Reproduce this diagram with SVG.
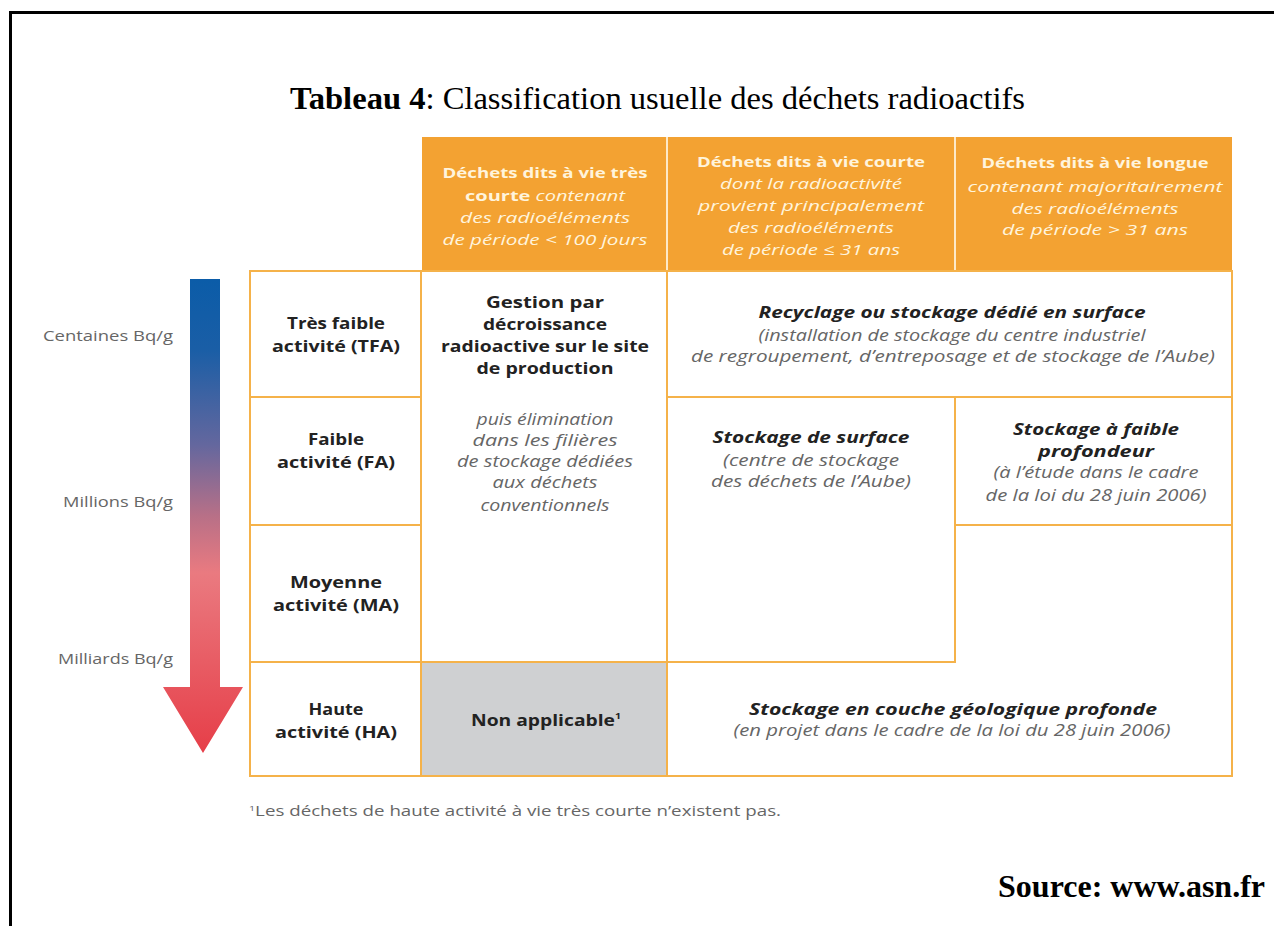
<svg xmlns="http://www.w3.org/2000/svg" width="1274" height="926" viewBox="0 0 1274 926">
<defs>
<linearGradient id="arrowGrad" gradientUnits="userSpaceOnUse" x1="0" y1="279" x2="0" y2="753">
<stop offset="0" stop-color="#0b5ca8"/>
<stop offset="0.15" stop-color="#1a5ea6"/>
<stop offset="0.35" stop-color="#64679e"/>
<stop offset="0.5" stop-color="#b87087"/>
<stop offset="0.62" stop-color="#ea7a80"/>
<stop offset="1" stop-color="#e63e48"/>
</linearGradient>
<style>
.frame{stroke:#000;stroke-width:3;fill:none}
.cell{fill:#fff;stroke:#f5b24a;stroke-width:2}
.hdr{fill:#f3a232}
.sep{stroke:#fde9c8;stroke-width:2}
.gray{fill:#cfd0d2;stroke:#f5b24a;stroke-width:2}
text{font-family:"Open Sans","Noto Sans",sans-serif;text-anchor:middle}
.ht{fill:#fff4dc;font-size:15px}
.htb{font-weight:bold}
.hti{font-style:italic}
.rl{fill:#222;font-size:16.5px;font-weight:bold}
.b{fill:#222;font-size:16.5px;font-weight:bold}
.bi{fill:#222;font-size:16.5px;font-weight:bold;font-style:italic}
.gi{fill:#666;font-size:15.5px;font-style:italic}
.scale{fill:#666;font-size:14.5px;text-anchor:end}
.title{font-family:"Liberation Serif","Times New Roman",serif;font-size:31px;fill:#000;text-anchor:start}
.src{font-family:"Liberation Serif","Times New Roman",serif;font-size:32px;font-weight:bold;fill:#000;text-anchor:end}
.foot{fill:#666;font-size:14px;text-anchor:start}
</style>
</defs>
<rect x="0" y="0" width="1274" height="926" fill="#fff"/>
<path class="frame" d="M10.5 926 V12.5 H1274"/>

<text class="title" x="290" y="109" textLength="735" lengthAdjust="spacingAndGlyphs"><tspan font-weight="bold">Tableau 4</tspan>: Classification usuelle des déchets radioactifs</text>

<g id="header">
<rect class="hdr" x="422" y="137" width="810" height="134"/>
<line class="sep" x1="667" y1="137" x2="667" y2="271"/>
<line class="sep" x1="955" y1="137" x2="955" y2="271"/>
<g id="hdr-vie-tres-courte">
<text class="ht htb" x="545" y="178" textLength="205" lengthAdjust="spacingAndGlyphs">Déchets dits à vie très</text>
<text class="ht" x="545" y="201" textLength="160" lengthAdjust="spacingAndGlyphs"><tspan class="htb">courte</tspan><tspan class="hti"> contenant</tspan></text>
<text class="ht hti" x="545" y="223" textLength="170" lengthAdjust="spacingAndGlyphs">des radioéléments</text>
<text class="ht hti" x="545" y="245" textLength="205" lengthAdjust="spacingAndGlyphs">de période &lt; 100 jours</text>
</g>
<g id="hdr-vie-courte">
<text class="ht htb" x="811" y="167" textLength="228" lengthAdjust="spacingAndGlyphs">Déchets dits à vie courte</text>
<text class="ht hti" x="811" y="189" textLength="182" lengthAdjust="spacingAndGlyphs">dont la radioactivité</text>
<text class="ht hti" x="811" y="211" textLength="226" lengthAdjust="spacingAndGlyphs">provient principalement</text>
<text class="ht hti" x="811" y="233" textLength="166" lengthAdjust="spacingAndGlyphs">des radioéléments</text>
<text class="ht hti" x="811" y="255" textLength="178" lengthAdjust="spacingAndGlyphs">de période ≤ 31 ans</text>
</g>
<g id="hdr-vie-longue">
<text class="ht htb" x="1095" y="168" textLength="227" lengthAdjust="spacingAndGlyphs">Déchets dits à vie longue</text>
<text class="ht hti" x="1095" y="192" textLength="255" lengthAdjust="spacingAndGlyphs">contenant majoritairement</text>
<text class="ht hti" x="1095" y="214" textLength="167" lengthAdjust="spacingAndGlyphs">des radioéléments</text>
<text class="ht hti" x="1095" y="235" textLength="186" lengthAdjust="spacingAndGlyphs">de période &gt; 31 ans</text>
</g>
</g>

<g id="scale-arrow">
<polygon points="190,279 220,279 220,687 243,687 203,753 163,687 190,687" fill="url(#arrowGrad)"/>
<text class="scale" x="173" y="341" textLength="130" lengthAdjust="spacingAndGlyphs">Centaines Bq/g</text>
<text class="scale" x="173" y="507" textLength="110" lengthAdjust="spacingAndGlyphs">Millions Bq/g</text>
<text class="scale" x="173" y="664" textLength="115" lengthAdjust="spacingAndGlyphs">Milliards Bq/g</text>
</g>

<g id="row-tfa">
<rect class="cell" x="250" y="271" width="171" height="126"/>
<text class="rl" x="336" y="329" textLength="98" lengthAdjust="spacingAndGlyphs">Très faible</text>
<text class="rl" x="336" y="352" textLength="128" lengthAdjust="spacingAndGlyphs">activité (TFA)</text>
</g>
<g id="row-fa">
<rect class="cell" x="250" y="397" width="171" height="128"/>
<text class="rl" x="336" y="445" textLength="56" lengthAdjust="spacingAndGlyphs">Faible</text>
<text class="rl" x="336" y="468" textLength="118" lengthAdjust="spacingAndGlyphs">activité (FA)</text>
</g>
<g id="row-ma">
<rect class="cell" x="250" y="525" width="171" height="137"/>
<text class="rl" x="336" y="588" textLength="92" lengthAdjust="spacingAndGlyphs">Moyenne</text>
<text class="rl" x="336" y="611" textLength="126" lengthAdjust="spacingAndGlyphs">activité (MA)</text>
</g>
<g id="row-ha">
<rect class="cell" x="250" y="662" width="171" height="114"/>
<text class="rl" x="336" y="715" textLength="55" lengthAdjust="spacingAndGlyphs">Haute</text>
<text class="rl" x="336" y="738" textLength="122" lengthAdjust="spacingAndGlyphs">activité (HA)</text>
</g>

<g id="cell-decroissance">
<rect class="cell" x="421" y="271" width="246" height="391"/>
<text class="b" x="545" y="308" textLength="118" lengthAdjust="spacingAndGlyphs">Gestion par</text>
<text class="b" x="545" y="330" textLength="124" lengthAdjust="spacingAndGlyphs">décroissance</text>
<text class="b" x="545" y="352" textLength="208" lengthAdjust="spacingAndGlyphs">radioactive sur le site</text>
<text class="b" x="545" y="374" textLength="137" lengthAdjust="spacingAndGlyphs">de production</text>
<text class="gi" x="545" y="425" textLength="137" lengthAdjust="spacingAndGlyphs">puis élimination</text>
<text class="gi" x="545" y="446" textLength="145" lengthAdjust="spacingAndGlyphs">dans les filières</text>
<text class="gi" x="545" y="467" textLength="176" lengthAdjust="spacingAndGlyphs">de stockage dédiées</text>
<text class="gi" x="545" y="488" textLength="105" lengthAdjust="spacingAndGlyphs">aux déchets</text>
<text class="gi" x="545" y="511" textLength="129" lengthAdjust="spacingAndGlyphs">conventionnels</text>
</g>

<g id="cell-non-applicable">
<rect class="gray" x="421" y="662" width="246" height="114"/>
<text class="b" x="546" y="726" font-weight="600" fill="#333" textLength="150" lengthAdjust="spacingAndGlyphs">Non applicable<tspan font-size="9" dy="-7">1</tspan></text>
</g>

<g id="cell-recyclage">
<rect class="cell" x="667" y="271" width="565" height="126"/>
<text class="bi" x="952" y="318" textLength="387" lengthAdjust="spacingAndGlyphs">Recyclage ou stockage dédié en surface</text>
<text class="gi" x="952" y="341" textLength="387" lengthAdjust="spacingAndGlyphs">(installation de stockage du centre industriel</text>
<text class="gi" x="953" y="362" textLength="524" lengthAdjust="spacingAndGlyphs">de regroupement, d’entreposage et de stockage de l’Aube)</text>
</g>

<g id="cell-stockage-surface">
<rect class="cell" x="667" y="397" width="288" height="265"/>
<text class="bi" x="811" y="443" textLength="197" lengthAdjust="spacingAndGlyphs">Stockage de surface</text>
<text class="gi" x="811" y="466" textLength="176" lengthAdjust="spacingAndGlyphs">(centre de stockage</text>
<text class="gi" x="811" y="487" textLength="200" lengthAdjust="spacingAndGlyphs">des déchets de l’Aube)</text>
</g>

<g id="cell-faible-profondeur">
<rect class="cell" x="955" y="397" width="277" height="128"/>
<text class="bi" x="1096" y="435" textLength="166" lengthAdjust="spacingAndGlyphs">Stockage à faible</text>
<text class="bi" x="1096" y="457" textLength="116" lengthAdjust="spacingAndGlyphs">profondeur</text>
<text class="gi" x="1096" y="478" textLength="205" lengthAdjust="spacingAndGlyphs">(à l’étude dans le cadre</text>
<text class="gi" x="1096" y="501" textLength="221" lengthAdjust="spacingAndGlyphs">de la loi du 28 juin 2006)</text>
</g>

<g id="cell-geologique">
<path class="cell" d="M667 662 H955 V525 H1232 V776 H667 Z"/>
<text class="bi" x="953" y="715" textLength="408" lengthAdjust="spacingAndGlyphs">Stockage en couche géologique profonde</text>
<text class="gi" x="952" y="736" textLength="437" lengthAdjust="spacingAndGlyphs">(en projet dans le cadre de la loi du 28 juin 2006)</text>
</g>

<text class="foot" x="249" y="816" textLength="532" lengthAdjust="spacingAndGlyphs"><tspan font-size="8" dy="-5">1</tspan><tspan dy="5">Les déchets de haute activité à vie très courte n’existent pas.</tspan></text>

<text class="src" x="1265" y="897">Source: www.asn.fr</text>
</svg>
